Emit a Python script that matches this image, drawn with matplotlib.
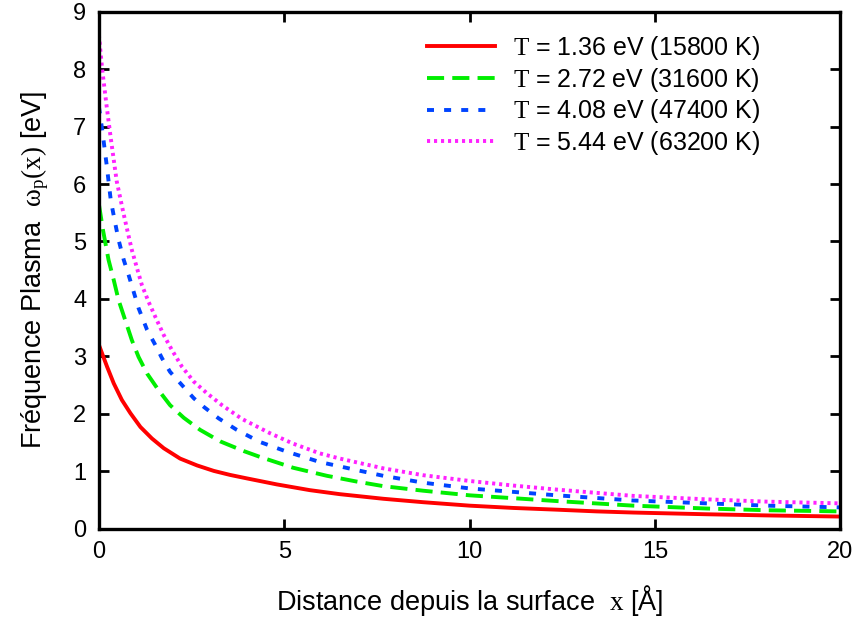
from matplotlib import pyplot as plt

plt.rcParams['font.family'] = ['Liberation Sans', 'DejaVu Sans']
plt.rcParams['mathtext.fontset'] = 'custom'
plt.rcParams['mathtext.rm'] = 'Liberation Sans'
plt.rcParams['mathtext.tt'] = 'Liberation Serif'
plt.rcParams['mathtext.it'] = 'Liberation Sans:italic'

# values
x_red = [0, 0.22, 0.40, 0.62, 0.85, 1.12, 1.43, 1.75, 2.19, 2.65, 3.10, 3.54, 3.99, 4.80,
         5.69, 6.5, 7.67, 8.75, 10.0, 11.18, 12.35, 13.43, 14.42, 16.4, 18.02, 20]
v_red = [3.20, 2.82, 2.53, 2.24, 2.01, 1.77, 1.57, 1.40, 1.22, 1.10, 1.005, 0.935, 0.875, 0.77,
         0.67, 0.60, 0.52, 0.46, 0.40, 0.36, 0.33, 0.30, 0.28, 0.25, 0.23, 0.21]

x_green = [0, 0.11, 0.26, 0.40, 0.53, 0.71, 0.89, 1.07, 1.30, 1.61, 1.92, 2.29, 2.73, 3.27,
           3.91, 4.34, 5.24, 6.15, 6.95, 7.67, 8.75, 10.0, 11.18, 12.35, 14.42, 16.4, 18.02, 20]
v_green = [5.65, 5.20, 4.68, 4.33, 3.98, 3.63, 3.28, 2.99, 2.70, 2.41, 2.15, 1.93, 1.72, 1.52,
           1.35, 1.25, 1.06, 0.92, 0.82, 0.74, 0.66, 0.58, 0.53, 0.48, 0.40, 0.35, 0.32, 0.30]

x_blue = [0, 0.09, 0.21, 0.32, 0.43, 0.53, 0.67, 0.80, 1.07, 1.30, 1.52, 1.70, 1.92, 2.24,
          2.56, 2.83, 3.23, 3.72, 4.34, 5.07, 5.96, 6.95, 7.67, 8.75, 10.0, 11.18, 12.35,
          14.42, 16.4, 18.02, 20]
v_blue = [7.35, 6.94, 6.33, 5.72, 5.35, 5.03, 4.68, 4.42, 3.84, 3.46, 3.20, 2.97, 2.73, 2.50,
          2.27, 2.12, 1.92, 1.72, 1.51, 1.34, 1.16, 1.02, 0.92, 0.80, 0.70, 0.64, 0.58,
          0.49, 0.44, 0.40, 0.37]

x_mag = [0, 0.09, 0.21, 0.32, 0.48, 0.66, 0.80, 0.89, 1.03, 1.16, 1.34, 1.52, 1.75, 1.97,
         2.24, 2.56, 2.91, 3.32, 3.86, 4.62, 5.24, 5.96, 6.5, 7.67, 8.75, 10.0, 11.18, 12.35,
         14.42, 16.4, 18.02, 20]
v_mag = [8.6, 7.99, 7.35, 6.80, 6.05, 5.50, 5.10, 4.85, 4.53, 4.24, 3.95, 3.69, 3.37, 3.11,
         2.82, 2.56, 2.36, 2.15, 1.91, 1.66, 1.48, 1.31, 1.22, 1.05, 0.93, 0.83, 0.75, 0.68,
         0.57, 0.51, 0.47, 0.44]

labels = [r'$\mathtt{T}$ = 1.36 eV (15800 K)',
          r'$\mathtt{T}$ = 2.72 eV (31600 K)',
          r'$\mathtt{T}$ = 4.08 eV (47400 K)',
          r'$\mathtt{T}$ = 5.44 eV (63200 K)']

fig = plt.figure(figsize=(8.6, 6.19), dpi=100)
ax = fig.add_axes([0.115, 0.146, 0.862, 0.835])

lw = 2.8
ax.plot(x_red, v_red, color='#ff0000', lw=lw, ls='-', label=labels[0])
ax.plot(x_green, v_green, color='#00ee00', lw=lw, ls=(0, (4.4, 2.1)), label=labels[1])
ax.plot(x_blue, v_blue, color='#0044ff', lw=lw, ls=(0, (1.8, 2.6)), label=labels[2])
ax.plot(x_mag, v_mag, color='#ff22ff', lw=lw, ls=(0, (0.8, 1.0)), label=labels[3])

ax.set_xlim(0, 20)
ax.set_ylim(0, 9)
ax.set_xticks([0, 5, 10, 15, 20])
ax.set_yticks(range(10))
ax.tick_params(direction='in', length=7, width=2, labelsize=17, top=True, right=True, pad=9)
for s in ax.spines.values():
    s.set_linewidth(2.4)

ax.set_xlabel(r'Distance depuis la surface  $\mathtt{x}$ [Å]', fontsize=19.5, labelpad=14)
ax.set_ylabel(r'Fréquence Plasma  $\mathtt{\omega_p(x)}$ [eV]', fontsize=19.5, labelpad=16)

ax.legend(loc='upper right', bbox_to_anchor=(0.892, 0.957), frameon=False, fontsize=18,
          handlelength=2.7, handletextpad=0.72, labelspacing=0.15, borderaxespad=0,
          borderpad=0)

fig.savefig('out.png', dpi=100)
